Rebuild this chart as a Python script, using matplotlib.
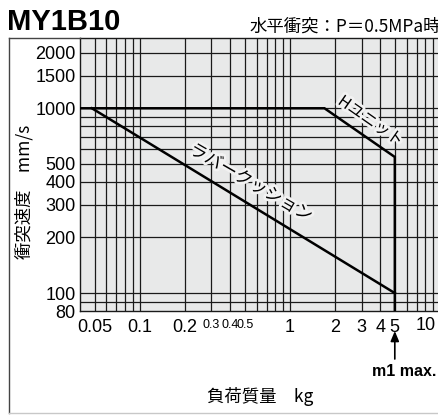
import matplotlib
matplotlib.use('Agg')
import matplotlib.pyplot as plt
import matplotlib.patheffects as pe
from matplotlib.transforms import blended_transform_factory, ScaledTranslation
from matplotlib.lines import Line2D
from matplotlib import font_manager

# figure size in px
W, H = 438, 416
DPI = 100

JP = 'Noto Sans CJK JP'
LATIN = 'Liberation Sans'
_names = {f.name for f in font_manager.fontManager.ttflist}
NARROW = 'Liberation Sans Narrow' if 'Liberation Sans Narrow' in _names else LATIN

# ── data ──
H_UNIT_MASS = [0.04, 1.7, 5, 5]          # kg
H_UNIT_SPEED = [1000, 1000, 545, 80]     # mm/s
RUBBER_MASS = [0.048, 5]
RUBBER_SPEED = [1000, 100]
M1_MAX = 5

X_GRID = [0.05, 0.06, 0.07, 0.08, 0.09, 0.1, 0.2, 0.3, 0.4, 0.5, 0.6, 0.7,
          0.8, 0.9, 1, 2, 3, 4, 5, 6, 7, 8, 9]
Y_GRID = [90, 100, 200, 300, 400, 500, 600, 700, 800, 900, 1000, 1500, 2000]
X_TICKS = [0.05, 0.1, 0.2, 0.3, 0.4, 0.5, 1, 2, 3, 4, 5]
X_LABELS = ['0.05', '0.1', '0.2', '0.3', '0.4', '0.5', '1', '2', '3', '4', '5']
X_SMALL = ['0.3', '0.4', '0.5']
X_LAST = 10
Y_TICKS = [80, 100, 200, 300, 400, 500, 1000, 1500, 2000]
Y_LABELS = ['80', '100', '200', '300', '400', '500', '1000', '1500', '2000']


def fx(px):
    return px / W


def fy(py):
    return 1 - py / H


fig = plt.figure(figsize=(W / DPI, H / DPI), dpi=DPI)
fig.patch.set_facecolor('white')

# plot area: px 80..440 wide, 38..311 high (runs off right edge)
ax = fig.add_axes([fx(80), fy(311), fx(440) - fx(80), fy(38) - fy(311)])
ax.set_facecolor('#e8e9e9')
ax.set_xscale('log')
ax.set_yscale('log')
ax.set_xlim(0.04, 10)
ax.set_ylim(80, 2400)

ax.vlines(X_GRID, 80, 2400, color='#1a1a1a', lw=0.9, zorder=1)
ax.hlines(Y_GRID, 0.04, 10, color='#1a1a1a', lw=0.9, zorder=1)

for sp in ax.spines.values():
    sp.set_linewidth(1.0)
    sp.set_color('#1a1a1a')

halo = [pe.withStroke(linewidth=4, foreground='#f2f2f2')]

ax.plot(H_UNIT_MASS, H_UNIT_SPEED, color='black', lw=1.8, zorder=3,
        solid_joinstyle='miter')
ax.plot(RUBBER_MASS, RUBBER_SPEED, color='black', lw=1.8, zorder=3)

ax.text(3.45, 850, 'Hユニット', family=JP, fontsize=11.5, rotation=-35,
        ha='center', va='center', zorder=5, path_effects=halo)
ax.text(0.55, 395, 'ラバークッション', family=JP, fontsize=12.5, rotation=-30,
        ha='center', va='center', zorder=5, path_effects=halo)

ax.minorticks_off()
ax.set_xticks(X_TICKS)
ax.set_xticklabels(X_LABELS)
ax.set_yticks(Y_TICKS)
ax.set_yticklabels(Y_LABELS)
ax.tick_params(length=0)
ax.tick_params(axis='y', pad=3)
ax.tick_params(axis='x', pad=6)
for t in ax.get_yticklabels():
    t.set_fontfamily(LATIN)
    t.set_fontsize(13)
for t in ax.get_xticklabels():
    t.set_fontfamily(NARROW)
    t.set_fontsize(9 if t.get_text() in X_SMALL else 13)

# "10" sits at the cut-off right edge, nudged left like the original
tr_x = blended_transform_factory(ax.transData, ax.transAxes)
ax.text(X_LAST, 0, str(X_LAST), family=NARROW, fontsize=13, ha='right', va='top',
        transform=tr_x + ScaledTranslation(-4 / DPI, -6 / DPI, fig.dpi_scale_trans),
        clip_on=False)

# outer frame
fig.add_artist(Line2D([fx(8.5), fx(8.5)], [fy(38), fy(413)], color='#444', lw=1.0))
fig.add_artist(Line2D([fx(8.5), fx(80)], [fy(38), fy(38)], color='#444', lw=1.0))
fig.add_artist(Line2D([fx(8.5), fx(438)], [fy(413), fy(413)], color='#c8c8c8', lw=1.0))

# titles and axis labels
fig.text(fx(7), fy(22), 'MY1B10', family=LATIN, fontsize=21, fontweight='bold',
         ha='left', va='center')
fig.text(fx(441), fy(27), '水平衝突：P＝0.5MPa時', family=JP, fontsize=12.5,
         ha='right', va='center')
fig.text(fx(24), fy(192), '衝突速度　mm/s', family=JP, fontsize=12.5,
         rotation=90, ha='center', va='center')
fig.text(fx(260), fy(396), '負荷質量　kg', family=JP, fontsize=12.5,
         ha='center', va='center')

# m1 max arrow
tr = blended_transform_factory(ax.transData, fig.transFigure)
ax.annotate('', xy=(M1_MAX, fy(331)), xycoords=tr,
            xytext=(M1_MAX, fy(359)), textcoords=tr,
            arrowprops=dict(arrowstyle='-|>,head_length=0.6,head_width=0.25',
                            color='black', lw=1.2, shrinkA=0, shrinkB=0),
            annotation_clip=False)
fig.text(fx(404), fy(372), 'm1 max.', family=LATIN, fontsize=11.5,
         fontweight='bold', ha='center', va='center')

fig.savefig('out.png', dpi=DPI, facecolor='white')
